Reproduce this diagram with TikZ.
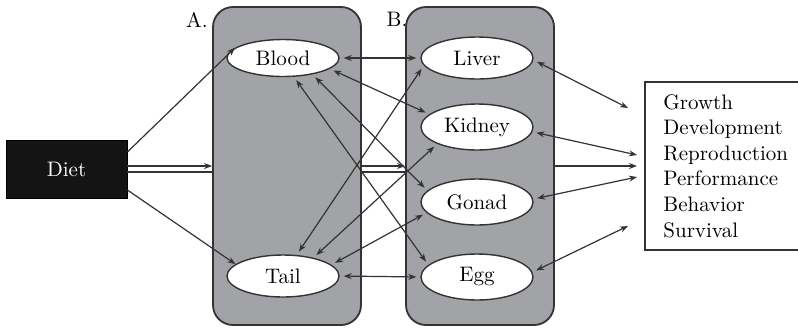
\documentclass[tikz,border=0pt]{standalone}
\usetikzlibrary{shapes.geometric,arrows.meta}
\definecolor{grigio}{HTML}{A2A3A6}
\definecolor{tratto}{HTML}{333333}
\begin{document}
\begin{tikzpicture}[x=0.5pt,y=-0.5pt,
        font=\fontsize{10.5}{12.8}\selectfont,
        scatola/.style={draw=tratto,fill=grigio,rounded corners=10pt,line width=0.9pt,
            minimum width=74pt,minimum height=159pt,inner sep=0pt},
        organo/.style={draw=tratto,fill=white,ellipse,line width=0.7pt,
            minimum width=56pt,minimum height=21pt,inner sep=0pt},
        freccia/.style={draw=tratto,line width=0.6pt,>={Stealth[length=4pt,width=3pt]}}]
        \useasboundingbox (0,0) rectangle (798,328);

        %%%%%%%%%% Nodi %%%%%%%%%%
        \node[scatola] (boxA) at (287,166) {};
        \node[scatola] (boxB) at (480,166) {};
        \node (labA) at (197,20) {A.};
        \node (labB) at (397,19) {B.};

        \node[draw=black,fill=black!92,text=white,minimum width=60.5pt,minimum height=29pt] (diet) at (66.5,169) {Diet};

        \node[organo,minimum height=18.5pt] (blood) at (283,58) {Blood};
        \node[organo] (tail) at (283,276) {Tail};
        \node[organo] (liver) at (477,58) {Liver};
        \node[organo,minimum height=23pt] (kidney) at (477,127) {Kidney};
        \node[organo,minimum height=23pt] (gonad) at (477,202) {Gonad};
        \node[organo,minimum height=23pt] (egg) at (477,277) {Egg};

        \node[anchor=west,minimum height=83.5pt,text width=80pt,inner xsep=9pt,align=left] (esiti) at (645,166)
            {Growth\\Development\\Reproduction\\Performance\\Behavior\\Survival};
        % cornice aperta a destra (tagliata dal bordo)
        \draw[tratto,line width=0.7pt] (esiti.north east) -- (esiti.north west)
            -- (esiti.south west) -- (esiti.south east);

        \coordinate (e1) at (628,108);
        \coordinate (e2) at (637,155);
        \coordinate (e0) at (637,166);
        \coordinate (e3) at (637,177);
        \coordinate (e4) at (628,226);

        %%%%%%%%% Frecce %%%%%%%%%
        \draw[freccia,->] ([yshift=8.5pt]diet.east) -- (blood.168);
        \draw[freccia,->] ([yshift=-10.5pt]diet.east) -- (tail.166);

        \draw[freccia,->] ([yshift=1.5pt]diet.east) -- ([yshift=1.5pt]diet.east -| boxA.west);
        \draw[freccia] ([yshift=-1.5pt]diet.east) -- ([yshift=-1.5pt]diet.east -| boxA.west);
        \draw[freccia,->] ([yshift=1.5pt]diet.east -| boxA.east) -- ([yshift=1.5pt]diet.east -| boxB.west);
        \draw[freccia] ([yshift=-1.5pt]diet.east -| boxA.east) -- ([yshift=-1.5pt]diet.east -| boxB.west);

        \foreach \a/\b in {blood.0/liver.180,blood.-13/kidney.165,blood.-29/gonad.167,blood.-60/egg.166,
                tail.57/liver.188,tail.31/kidney.203,tail.13/gonad.192,tail.0/egg.180}
            \draw[freccia,<->,shorten <=2pt,shorten >=2pt] (\a) -- (\b);

        \foreach \a/\b in {liver.-2/e1,kidney.-5/e2,gonad.3/e3,egg.5/e4}
            \draw[freccia,<->,shorten <=2pt] (\a) -- (\b);
        \draw[freccia,->] (boxB.east) -- (e0);
    \end{tikzpicture}
\end{document}
